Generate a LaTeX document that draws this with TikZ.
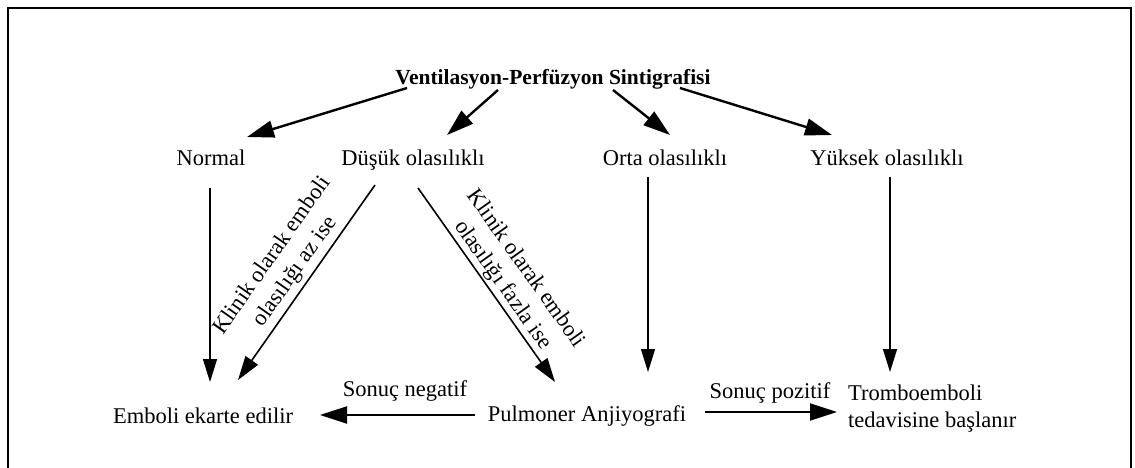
\documentclass[tikz,border=0pt]{standalone}
\usepackage{fontspec}
\setmainfont{Liberation Serif}
\usetikzlibrary{arrows.meta,calc}
\begin{document}
\begin{tikzpicture}[x=1pt,y=1pt,
  every node/.style={inner sep=0pt, font=\fontsize{22.5}{27}\selectfont},
  lbl/.style={anchor=base},
  titlelbl/.style={anchor=base, font=\fontsize{21.5}{26}\selectfont\bfseries},
  slopelbl/.style={align=center, font=\fontsize{22.5}{28}\selectfont},
  toparrow/.style={line width=2.4pt, -{Triangle[length=27pt,width=17pt]}},
  downarrow/.style={line width=1.4pt, -{Triangle[length=23pt,width=14pt]}},
  diagarrow/.style={line width=1.6pt, -{Triangle[length=24pt,width=15pt]}},
  sidearrow/.style={line width=2pt, -{Triangle[length=27pt,width=17pt]}},
  framestyle/.style={line width=2pt}
]
\useasboundingbox (0,0) rectangle (1135,-468);
% frame around the chart
\draw[framestyle] (8,-480) -- (8,-8) -- (1131,-8) -- (1131,-480);

% top level
\node[titlelbl] (title) at (553,-85) {Ventilasyon-Perfüzyon Sintigrafisi};

% scan results
\node[lbl] (normal) at (211,-165) {Normal};
\node[lbl] (dusuk)  at (413,-165) {Düşük olasılıklı};
\node[lbl] (orta)   at (665,-165) {Orta olasılıklı};
\node[lbl] (yuksek) at (887,-165) {Yüksek olasılıklı};

% outcomes (base of a two-line node is the baseline of its last line)
\node[lbl] (emboli)   at (203,-423) {Emboli ekarte edilir};
\node[lbl] (pulmoner) at (587,-421) {Pulmoner Anjiyografi};
\node[anchor=base west, align=left] (trombo) at (848,-427) {Tromboemboli\\tedavisine başlanır};

% arrows from the scan
\draw[toparrow] ($(title.base)+(-146,-3)$) -- ($(normal.base)+(36,28)$);
\draw[toparrow] ($(title.base)+(-55,-5)$) -- ($(dusuk.base)+(34,30)$);
\draw[toparrow] ($(title.base)+(60,-5)$) -- ($(orta.base)+(5,30)$);
\draw[toparrow] ($(title.base)+(127,-3)$) -- ($(yuksek.base)+(-55,30)$);

% arrows down to the outcomes
\draw[downarrow] ($(normal.base)+(-1,-23)$) -- ($(emboli.base)+(7,41)$);
\draw[diagarrow] ($(dusuk.base)+(-38,-20)$) -- ($(emboli.base)+(35,43)$);
\draw[diagarrow] ($(dusuk.base)+(5,-23)$) -- ($(pulmoner.base)+(-32,39)$);
\draw[downarrow] ($(orta.base)+(-17,-12)$) -- ($(pulmoner.base)+(61,49)$);
\draw[downarrow] ($(yuksek.base)+(3,-12)$) -- ($(trombo.base west)+(42,55)$);

% conditions written along the two slanted arrows
\node[slopelbl, rotate=54.9]  (az)    at (284,-264) {Klinik olarak emboli\\olasılığı az ise};
\node[slopelbl, rotate=-54.6] (fazla) at (514,-277) {Klinik olarak emboli\\olasılığı fazla ise};

% angiography results
\draw[sidearrow] ($(pulmoner.base)+(-112,6)$) -- ($(emboli.base)+(117,8)$);
\draw[sidearrow] ($(pulmoner.base)+(118,9)$) -- ($(trombo.base west)+(-11,15)$);
\node[lbl] (neg) at (405,-396) {Sonuç negatif};
\node[lbl] (poz) at (770,-398) {Sonuç pozitif};
\end{tikzpicture}
\end{document}
